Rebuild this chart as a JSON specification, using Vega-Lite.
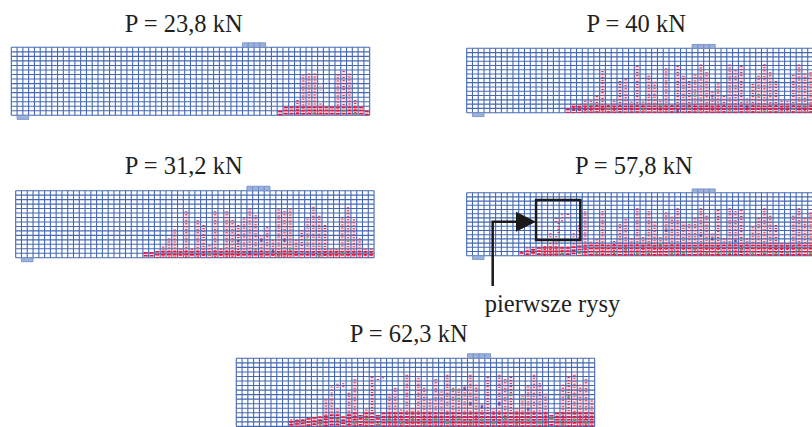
{"$schema":"https://vega.github.io/schema/vega-lite/v6.json","width":812,"height":427,"padding":0,"autosize":{"type":"none"},"background":"white","config":{"view":{"stroke":null}},
"datasets":{
"vl":[{"c":0},{"c":1},{"c":2},{"c":3},{"c":4},{"c":5},{"c":6},{"c":7},{"c":8},{"c":9},{"c":10},{"c":11},{"c":12},{"c":13},{"c":14},{"c":15},{"c":16},{"c":17},{"c":18},{"c":19},{"c":20},{"c":21},{"c":22},{"c":23},{"c":24},{"c":25},{"c":26},{"c":27},{"c":28},{"c":29},{"c":30},{"c":31},{"c":32},{"c":33},{"c":34},{"c":35},{"c":36},{"c":37},{"c":38},{"c":39},{"c":40},{"c":41},{"c":42},{"c":43},{"c":44},{"c":45},{"c":46},{"c":47},{"c":48},{"c":49},{"c":50},{"c":51},{"c":52},{"c":53},{"c":54},{"c":55},{"c":56},{"c":57},{"c":58},{"c":59},{"c":60},{"c":61},{"c":62}],
"hl":[{"r":0},{"r":1},{"r":2},{"r":3},{"r":4},{"r":5},{"r":6},{"r":7},{"r":8},{"r":9},{"r":10},{"r":11},{"r":12},{"r":13},{"r":14},{"r":15}],
"p40":[{"c":40,"e":41,"r":15,"t":16},{"c":41,"e":42,"r":15,"t":16},{"c":42,"e":43,"r":15,"t":16},{"c":43,"e":44,"r":15,"t":16},{"c":1,"e":3,"r":-0.9,"t":0}],
"p39":[{"c":39,"e":40,"r":15,"t":15.9},{"c":40,"e":41,"r":15,"t":15.9},{"c":41,"e":42,"r":15,"t":15.9},{"c":42,"e":43,"r":15,"t":15.9},{"c":1,"e":3,"r":-0.9,"t":0}],
"b1":[{"c":46.5,"h":1,"d":1},{"c":47.5,"h":1.9,"d":1.9},{"c":48.5,"h":1.9,"d":1.9},{"c":49.5,"h":3.4,"d":1.9},{"c":50.5,"h":9,"d":1.9},{"c":51.5,"h":9.2,"d":1.9},{"c":52.5,"h":9.2,"d":1.9},{"c":53.5,"h":2.6,"d":1.9},{"c":54.5,"h":1.9,"d":1.9},{"c":55.5,"h":1.9,"d":1.9},{"c":56.5,"h":9,"d":1.9},{"c":57.5,"h":9.8,"d":1.9},{"c":58.5,"h":9.2,"d":1.9},{"c":59.5,"h":3.4,"d":1.9},{"c":60.5,"h":1.9,"d":1.9},{"c":61.5,"h":1,"d":1}],
"f1":[{"c":53.5,"b":5.5,"h":7}],
"s1":[{"c":52.5,"r":0.6,"k":"g"},{"c":57.5,"r":0.9,"k":"g"},{"c":59.5,"r":0.4,"k":"g"}],
"b2":[{"c":22.5,"h":1.3,"d":1.3},{"c":23.5,"h":1.3,"d":1.3},{"c":24.5,"h":1.5,"d":1.5},{"c":25.5,"h":2.5,"d":1.5},{"c":26.5,"h":4.3,"d":1.5},{"c":27.5,"h":6.3,"d":1.5},{"c":28.5,"h":2,"d":1.5},{"c":29.5,"h":10.4,"d":1.5},{"c":30.5,"h":2,"d":1.5},{"c":31.5,"h":8.4,"d":1.5},{"c":32.5,"h":7.3,"d":1.5},{"c":33.5,"h":2.8,"d":1.5},{"c":34.5,"h":10.4,"d":1.5},{"c":35.5,"h":2,"d":1.5},{"c":36.5,"h":10.4,"d":1.5},{"c":37.5,"h":8.4,"d":1.5},{"c":38.5,"h":7.3,"d":1.5},{"c":39.5,"h":8.8,"d":1.5},{"c":40.5,"h":11,"d":1.5},{"c":41.5,"h":9.5,"d":1.5},{"c":42.5,"h":5,"d":1.5},{"c":43.5,"h":6.8,"d":1.5},{"c":44.5,"h":4,"d":1.5},{"c":45.5,"h":10.8,"d":1.5},{"c":46.5,"h":10.4,"d":1.5},{"c":47.5,"h":11,"d":1.5},{"c":48.5,"h":4,"d":1.5},{"c":49.5,"h":6.2,"d":1.5},{"c":50.5,"h":8.8,"d":1.5},{"c":51.5,"h":11.4,"d":1.5},{"c":52.5,"h":9.4,"d":1.5},{"c":53.5,"h":7.3,"d":1.5},{"c":54.5,"h":1.9,"d":1.5},{"c":55.5,"h":1.9,"d":1.5},{"c":56.5,"h":8.8,"d":1.5},{"c":57.5,"h":11.3,"d":1.5},{"c":58.5,"h":8.6,"d":1.5},{"c":59.5,"h":4.3,"d":1.5},{"c":60.5,"h":2,"d":1.5},{"c":61.5,"h":2,"d":1.5}],
"s2":[{"c":33.5,"r":0.7,"k":"g"},{"c":38.5,"r":3.7,"k":"b"},{"c":41.5,"r":1.8,"k":"g"},{"c":42.5,"r":3.9,"k":"b"},{"c":45.5,"r":0.4,"k":"g"},{"c":46.5,"r":3.9,"k":"b"},{"c":47.5,"r":1.8,"k":"g"},{"c":50.5,"r":4,"k":"g"},{"c":52.5,"r":0.4,"k":"g"},{"c":56.5,"r":1,"k":"g"},{"c":57.5,"r":3.8,"k":"g"},{"c":40.5,"r":1.2,"k":"b"},{"c":44.5,"r":1.5,"k":"b"}],
"b3":[{"c":17.5,"h":0.9,"d":0.9},{"c":18.5,"h":2,"d":1.6},{"c":19.5,"h":2,"d":1.6},{"c":20.5,"h":2.8,"d":1.7},{"c":21.5,"h":2.8,"d":1.7},{"c":22.5,"h":3.9,"d":1.7},{"c":23.5,"h":9.7,"d":1.7},{"c":24.5,"h":1.8,"d":1.7},{"c":25.5,"h":2.8,"d":1.7},{"c":26.5,"h":7.4,"d":1.7},{"c":27.5,"h":7.8,"d":1.7},{"c":28.5,"h":2.6,"d":1.7},{"c":29.5,"h":10.9,"d":1.7},{"c":30.5,"h":2.6,"d":1.7},{"c":31.5,"h":8.6,"d":1.7},{"c":32.5,"h":7.2,"d":1.7},{"c":33.5,"h":2.8,"d":1.7},{"c":34.5,"h":10.3,"d":1.7},{"c":35.5,"h":1.8,"d":1.7},{"c":36.5,"h":10.9,"d":1.7},{"c":37.5,"h":8.6,"d":1.7},{"c":38.5,"h":7.4,"d":1.7},{"c":39.5,"h":8.9,"d":1.7},{"c":40.5,"h":11.2,"d":1.7},{"c":41.5,"h":9.4,"d":1.7},{"c":42.5,"h":4.9,"d":1.7},{"c":43.5,"h":6.8,"d":1.7},{"c":44.5,"h":3.9,"d":1.7},{"c":45.5,"h":11.2,"d":1.7},{"c":46.5,"h":9.9,"d":1.7},{"c":47.5,"h":10.9,"d":1.7},{"c":48.5,"h":3.3,"d":1.7},{"c":49.5,"h":6.7,"d":1.7},{"c":50.5,"h":8.6,"d":1.7},{"c":51.5,"h":11.3,"d":1.7},{"c":52.5,"h":9.4,"d":1.7},{"c":53.5,"h":7.4,"d":1.7},{"c":54.5,"h":2.8,"d":1.7},{"c":55.5,"h":2.8,"d":1.7},{"c":56.5,"h":8.8,"d":1.7},{"c":57.5,"h":11.2,"d":1.7},{"c":58.5,"h":9.1,"d":1.7},{"c":59.5,"h":9.4,"d":1.7},{"c":60.5,"h":2.9,"d":1.7}],
"s3":[{"c":21.5,"r":1.8,"k":"g"},{"c":24.5,"r":1,"k":"g"},{"c":30.5,"r":0.8,"k":"g"},{"c":33.5,"r":1.7,"k":"g"},{"c":38.5,"r":1,"k":"g"},{"c":39.5,"r":4,"k":"g"},{"c":42.5,"r":3.9,"k":"b"},{"c":45.5,"r":0.7,"k":"g"},{"c":50.5,"r":4,"k":"g"},{"c":51.5,"r":0.3,"k":"g"},{"c":56.5,"r":0.9,"k":"g"},{"c":58.5,"r":1.5,"k":"g"},{"c":36.5,"r":0.5,"k":"b"},{"c":48.5,"r":1.3,"k":"b"}],
"b4":[{"c":9.5,"h":0.8,"d":0.8},{"c":10.5,"h":2,"d":1.2},{"c":11.5,"h":2,"d":1.6},{"c":12.5,"h":2,"d":2},{"c":13.5,"h":2.3,"d":2},{"c":14.5,"h":3,"d":2},{"c":15.5,"h":3.7,"d":2},{"c":16.5,"h":2.1,"d":2},{"c":17.5,"h":2.1,"d":2},{"c":18.5,"h":2.9,"d":2.2},{"c":19.5,"h":7.3,"d":2.4},{"c":20.5,"h":10.5,"d":2.5},{"c":21.5,"h":3.3,"d":2.6},{"c":22.5,"h":3.9,"d":2.6},{"c":23.5,"h":10.6,"d":2.6},{"c":24.5,"h":2.6,"d":2.6},{"c":25.5,"h":3.5,"d":2.6},{"c":26.5,"h":7.5,"d":2.6},{"c":27.5,"h":8.7,"d":2.6},{"c":28.5,"h":4.1,"d":2.6},{"c":29.5,"h":11.3,"d":2.6},{"c":30.5,"h":4.4,"d":2.6},{"c":31.5,"h":10.6,"d":2.6},{"c":32.5,"h":8.1,"d":2.6},{"c":33.5,"h":4.4,"d":2.6},{"c":34.5,"h":10.3,"d":2.6},{"c":35.5,"h":9.3,"d":2.6},{"c":36.5,"h":11.3,"d":2.6},{"c":37.5,"h":8.1,"d":2.6},{"c":38.5,"h":7.5,"d":2.6},{"c":39.5,"h":8.9,"d":2.6},{"c":40.5,"h":11.3,"d":2.6},{"c":41.5,"h":9.5,"d":2.6},{"c":42.5,"h":5.3,"d":2.6},{"c":43.5,"h":10.9,"d":2.6},{"c":44.5,"h":4.1,"d":2.6},{"c":45.5,"h":11.3,"d":2.6},{"c":46.5,"h":10.6,"d":2.6},{"c":47.5,"h":10.9,"d":2.6},{"c":48.5,"h":4.1,"d":2.6},{"c":49.5,"h":6.9,"d":2.6},{"c":50.5,"h":8.9,"d":2.6},{"c":51.5,"h":11.3,"d":2.6},{"c":52.5,"h":9.5,"d":2.6},{"c":53.5,"h":7.3,"d":2.6},{"c":54.5,"h":3,"d":2.6},{"c":55.5,"h":3,"d":2.6},{"c":56.5,"h":9.5,"d":2.6},{"c":57.5,"h":11.3,"d":2.6},{"c":58.5,"h":8.9,"d":2.6},{"c":59.5,"h":10.3,"d":2.6},{"c":60.5,"h":3.3,"d":2.6}],
"f4":[{"c":15.5,"b":8,"h":9},{"c":16.5,"b":8.2,"h":9.8},{"c":17.5,"b":9,"h":10},{"c":14.5,"b":4.4,"h":5.8},{"c":15.5,"b":4.4,"h":5},{"c":18.5,"b":4.4,"h":5.4},{"c":15.9,"b":5.4,"h":8.2}],
"s4":[{"c":16.5,"r":0.5,"k":"g"},{"c":19.5,"r":0.7,"k":"g"},{"c":22.5,"r":0.5,"k":"g"},{"c":25.5,"r":0.7,"k":"g"},{"c":27.5,"r":1.4,"k":"g"},{"c":29.5,"r":0.5,"k":"g"},{"c":31.5,"r":0.7,"k":"g"},{"c":33.5,"r":2.7,"k":"g"},{"c":35.5,"r":0.5,"k":"g"},{"c":37.5,"r":0.7,"k":"g"},{"c":39.5,"r":1.4,"k":"g"},{"c":41.5,"r":0.5,"k":"g"},{"c":43.5,"r":0.7,"k":"g"},{"c":45.5,"r":0.7,"k":"g"},{"c":47.5,"r":1.4,"k":"g"},{"c":49.5,"r":0.5,"k":"g"},{"c":51.5,"r":0.7,"k":"g"},{"c":53.5,"r":0.5,"k":"g"},{"c":55.5,"r":0.7,"k":"g"},{"c":57.5,"r":1.4,"k":"g"},{"c":59.5,"r":0.5,"k":"g"},{"c":60.5,"r":0.7,"k":"g"},{"c":40.5,"r":4.8,"k":"b"},{"c":42.5,"r":4,"k":"b"},{"c":46.5,"r":3.5,"k":"b"},{"c":34.5,"r":6,"k":"b"},{"c":38.5,"r":8,"k":"g"}],
"box":[{"c":12,"e":19.66,"r":3.74,"t":13.26}],
"lead":[{"o":1,"c":4.5,"r":-7.2},{"o":2,"c":4.5,"r":8.1},{"o":3,"c":9,"r":8.1}],
"head":[{"c":10.26,"r":8.1}],
"b5":[{"c":9.5,"h":1.5,"d":1.2},{"c":10.5,"h":1.5,"d":1.4},{"c":11.5,"h":1.5,"d":1.5},{"c":12.5,"h":1.8,"d":1.8},{"c":13.5,"h":2,"d":2},{"c":14.5,"h":2.2,"d":2.2},{"c":15.5,"h":5.9,"d":2.4},{"c":16.5,"h":5.9,"d":2.6},{"c":17.5,"h":4,"d":2.6},{"c":18.5,"h":2.2,"d":2.2},{"c":19.5,"h":7.4,"d":2.6},{"c":20.5,"h":10.4,"d":3},{"c":21.5,"h":2.5,"d":2.5},{"c":22.5,"h":3.7,"d":3},{"c":23.5,"h":10.9,"d":3},{"c":24.5,"h":2.5,"d":2.5},{"c":25.5,"h":3,"d":3},{"c":26.5,"h":7.2,"d":3},{"c":27.5,"h":8.5,"d":3},{"c":28.5,"h":3.7,"d":3},{"c":29.5,"h":11.4,"d":3},{"c":30.5,"h":4,"d":3},{"c":31.5,"h":10.7,"d":3},{"c":32.5,"h":8.5,"d":3},{"c":33.5,"h":5.9,"d":3},{"c":34.5,"h":10.4,"d":3},{"c":35.5,"h":7.7,"d":3},{"c":36.5,"h":11.4,"d":3},{"c":37.5,"h":8.5,"d":3},{"c":38.5,"h":8.3,"d":3},{"c":39.5,"h":8.8,"d":3},{"c":40.5,"h":11.4,"d":3},{"c":41.5,"h":9.2,"d":3},{"c":42.5,"h":4.8,"d":3},{"c":43.5,"h":10.9,"d":3},{"c":44.5,"h":4,"d":3},{"c":45.5,"h":11.4,"d":3},{"c":46.5,"h":10.4,"d":3},{"c":47.5,"h":10.9,"d":3},{"c":48.5,"h":4,"d":3},{"c":49.5,"h":6.8,"d":3},{"c":50.5,"h":8.8,"d":3},{"c":51.5,"h":11.4,"d":3},{"c":52.5,"h":9.5,"d":3},{"c":53.5,"h":7.2,"d":3},{"c":54.5,"h":2.5,"d":2.5},{"c":55.5,"h":3,"d":3},{"c":56.5,"h":9.2,"d":3},{"c":57.5,"h":10.9,"d":3},{"c":58.5,"h":11.4,"d":3},{"c":59.5,"h":9.2,"d":3},{"c":60.5,"h":10.4,"d":3},{"c":61.5,"h":5.7,"d":3}],
"f5":[{"c":16.5,"b":5.9,"h":9.2},{"c":17.5,"b":8.5,"h":9.8},{"c":18.5,"b":8.6,"h":9.8},{"c":24.5,"b":10.2,"h":11},{"c":25.4,"b":10.6,"h":11}],
"s5":[{"c":14.5,"r":0.5,"k":"g"},{"c":17.5,"r":1.5,"k":"g"},{"c":20.5,"r":0.7,"k":"g"},{"c":22.5,"r":1.7,"k":"g"},{"c":24.5,"r":0.5,"k":"g"},{"c":26.5,"r":1.5,"k":"g"},{"c":28.5,"r":0.7,"k":"g"},{"c":30.5,"r":1.7,"k":"g"},{"c":32.5,"r":0.5,"k":"g"},{"c":34.5,"r":1.5,"k":"g"},{"c":36.5,"r":0.7,"k":"g"},{"c":38.5,"r":1.7,"k":"g"},{"c":40.5,"r":0.5,"k":"g"},{"c":42.5,"r":1.5,"k":"g"},{"c":44.5,"r":0.7,"k":"g"},{"c":46.5,"r":1.7,"k":"g"},{"c":48.5,"r":0.5,"k":"g"},{"c":50.5,"r":1.5,"k":"g"},{"c":52.5,"r":0.7,"k":"g"},{"c":54.5,"r":1.7,"k":"g"},{"c":56.5,"r":0.5,"k":"g"},{"c":58.5,"r":1.5,"k":"g"},{"c":60.5,"r":0.7,"k":"g"},{"c":39.5,"r":8.3,"k":"b"},{"c":40.5,"r":5,"k":"b"},{"c":42.5,"r":4.3,"k":"b"},{"c":38.5,"r":6,"k":"g"},{"c":37.5,"r":8,"k":"g"},{"c":45.5,"r":5,"k":"b"},{"c":50.5,"r":3.8,"k":"b"},{"c":49.5,"r":6,"k":"g"},{"c":47.5,"r":7,"k":"g"},{"c":57.5,"r":6.5,"k":"g"}]
},
"resolve":{"scale":{"x":"independent","y":"independent"}},
"layer":[
{"layer":[
{"data":{"name":"b1"},"mark":{"type":"rule","strokeWidth":4.6,"color":"#fbdde2"},"encoding":{"x":{"field":"c","type":"quantitative","scale":{"domain":[-1.955,138.53],"nice":false,"zero":false},"axis":null},"y":{"field":"h","type":"quantitative","scale":{"domain":[-68.76,25.44],"nice":false,"zero":false},"axis":null},"y2":{"datum":0}}},
{"data":{"name":"vl"},"mark":{"type":"rule","strokeWidth":1.1,"color":"#4468b2"},"encoding":{"x":{"field":"c","type":"quantitative","scale":{"domain":[-1.955,138.53],"nice":false,"zero":false},"axis":null},"y":{"datum":0,"type":"quantitative","scale":{"domain":[-68.76,25.44],"nice":false,"zero":false},"axis":null},"y2":{"datum":15}}},
{"data":{"name":"hl"},"mark":{"type":"rule","strokeWidth":1.1,"color":"#4468b2"},"encoding":{"y":{"field":"r","type":"quantitative","scale":{"domain":[-68.76,25.44],"nice":false,"zero":false},"axis":null},"x":{"datum":0,"type":"quantitative","scale":{"domain":[-1.955,138.53],"nice":false,"zero":false},"axis":null},"x2":{"datum":62}}},
{"data":{"name":"p40"},"mark":{"type":"rect","fill":"#9db2da","stroke":"#6f8cc6","strokeWidth":0.8},"encoding":{"x":{"field":"c","type":"quantitative","scale":{"domain":[-1.955,138.53],"nice":false,"zero":false},"axis":null},"x2":{"field":"e"},"y":{"field":"r","type":"quantitative","scale":{"domain":[-68.76,25.44],"nice":false,"zero":false},"axis":null},"y2":{"field":"t"}}},
{"data":{"name":"b1"},"mark":{"type":"rule","strokeWidth":2.2,"color":"#e2304f","strokeDash":[1,2]},"encoding":{"x":{"field":"c","type":"quantitative","scale":{"domain":[-1.955,138.53],"nice":false,"zero":false},"axis":null},"y":{"field":"h","type":"quantitative","scale":{"domain":[-68.76,25.44],"nice":false,"zero":false},"axis":null},"y2":{"datum":0}}},
{"data":{"name":"f1"},"mark":{"type":"rule","strokeWidth":3,"color":"#ee8a9c","strokeDash":[1,2]},"encoding":{"x":{"field":"c","type":"quantitative","scale":{"domain":[-1.955,138.53],"nice":false,"zero":false},"axis":null},"y":{"field":"b","type":"quantitative","scale":{"domain":[-68.76,25.44],"nice":false,"zero":false},"axis":null},"y2":{"field":"h"}}},
{"data":{"name":"b1"},"mark":{"type":"rule","strokeWidth":4,"color":"#e8163c","strokeDash":[1.5,1.6]},"encoding":{"x":{"field":"c","type":"quantitative","scale":{"domain":[-1.955,138.53],"nice":false,"zero":false},"axis":null},"y":{"field":"d","type":"quantitative","scale":{"domain":[-68.76,25.44],"nice":false,"zero":false},"axis":null},"y2":{"datum":0}}},
{"data":{"name":"s1"},"mark":{"type":"square","size":5,"color":"#4fa868","opacity":0.9},"encoding":{"x":{"field":"c","type":"quantitative","scale":{"domain":[-1.955,138.53],"nice":false,"zero":false},"axis":null},"y":{"field":"r","type":"quantitative","scale":{"domain":[-68.76,25.44],"nice":false,"zero":false},"axis":null}}},
{"data":{"values":[{"c":29.83,"r":18.44,"t":"P = 23,8 kN"}]},"mark":{"type":"text","font":"Liberation Serif","fontSize":24.5,"color":"#231f20","align":"center","baseline":"alphabetic"},"encoding":{"x":{"field":"c","type":"quantitative","scale":{"domain":[-1.955,138.53],"nice":false,"zero":false},"axis":null},"y":{"field":"r","type":"quantitative","scale":{"domain":[-68.76,25.44],"nice":false,"zero":false},"axis":null},"text":{"field":"t","type":"nominal"}}}
]},
{"layer":[
{"data":{"name":"b2"},"mark":{"type":"rule","strokeWidth":4.6,"color":"#fbdde2"},"encoding":{"x":{"field":"c","type":"quantitative","scale":{"domain":[-2.716,137.77],"nice":false,"zero":false},"axis":null},"y":{"field":"h","type":"quantitative","scale":{"domain":[-37.9,57.69],"nice":false,"zero":false},"axis":null},"y2":{"datum":0}}},
{"data":{"name":"vl"},"mark":{"type":"rule","strokeWidth":1.1,"color":"#4468b2"},"encoding":{"x":{"field":"c","type":"quantitative","scale":{"domain":[-2.716,137.77],"nice":false,"zero":false},"axis":null},"y":{"datum":0,"type":"quantitative","scale":{"domain":[-37.9,57.69],"nice":false,"zero":false},"axis":null},"y2":{"datum":15}}},
{"data":{"name":"hl"},"mark":{"type":"rule","strokeWidth":1.1,"color":"#4468b2"},"encoding":{"y":{"field":"r","type":"quantitative","scale":{"domain":[-37.9,57.69],"nice":false,"zero":false},"axis":null},"x":{"datum":0,"type":"quantitative","scale":{"domain":[-2.716,137.77],"nice":false,"zero":false},"axis":null},"x2":{"datum":62}}},
{"data":{"name":"p40"},"mark":{"type":"rect","fill":"#9db2da","stroke":"#6f8cc6","strokeWidth":0.8},"encoding":{"x":{"field":"c","type":"quantitative","scale":{"domain":[-2.716,137.77],"nice":false,"zero":false},"axis":null},"x2":{"field":"e"},"y":{"field":"r","type":"quantitative","scale":{"domain":[-37.9,57.69],"nice":false,"zero":false},"axis":null},"y2":{"field":"t"}}},
{"data":{"name":"b2"},"mark":{"type":"rule","strokeWidth":2.2,"color":"#e2304f","strokeDash":[1,2]},"encoding":{"x":{"field":"c","type":"quantitative","scale":{"domain":[-2.716,137.77],"nice":false,"zero":false},"axis":null},"y":{"field":"h","type":"quantitative","scale":{"domain":[-37.9,57.69],"nice":false,"zero":false},"axis":null},"y2":{"datum":0}}},
{"data":{"name":"b2"},"mark":{"type":"rule","strokeWidth":4,"color":"#e8163c","strokeDash":[1.5,1.6]},"encoding":{"x":{"field":"c","type":"quantitative","scale":{"domain":[-2.716,137.77],"nice":false,"zero":false},"axis":null},"y":{"field":"d","type":"quantitative","scale":{"domain":[-37.9,57.69],"nice":false,"zero":false},"axis":null},"y2":{"datum":0}}},
{"data":{"name":"s2"},"transform":[{"filter":"datum.k==='g'"}],"mark":{"type":"square","size":5,"color":"#4fa868","opacity":0.9},"encoding":{"x":{"field":"c","type":"quantitative","scale":{"domain":[-2.716,137.77],"nice":false,"zero":false},"axis":null},"y":{"field":"r","type":"quantitative","scale":{"domain":[-37.9,57.69],"nice":false,"zero":false},"axis":null}}},
{"data":{"name":"s2"},"transform":[{"filter":"datum.k==='b'"}],"mark":{"type":"square","size":5,"color":"#3f4fb0","opacity":0.9},"encoding":{"x":{"field":"c","type":"quantitative","scale":{"domain":[-2.716,137.77],"nice":false,"zero":false},"axis":null},"y":{"field":"r","type":"quantitative","scale":{"domain":[-37.9,57.69],"nice":false,"zero":false},"axis":null}}},
{"data":{"values":[{"c":29.07,"r":18.74,"t":"P = 31,2 kN"}]},"mark":{"type":"text","font":"Liberation Serif","fontSize":24.5,"color":"#231f20","align":"center","baseline":"alphabetic"},"encoding":{"x":{"field":"c","type":"quantitative","scale":{"domain":[-2.716,137.77],"nice":false,"zero":false},"axis":null},"y":{"field":"r","type":"quantitative","scale":{"domain":[-37.9,57.69],"nice":false,"zero":false},"axis":null},"text":{"field":"t","type":"nominal"}}}
]},
{"layer":[
{"data":{"name":"b3"},"mark":{"type":"rule","strokeWidth":4.6,"color":"#fbdde2"},"encoding":{"x":{"field":"c","type":"quantitative","scale":{"domain":[-80.74,59.74],"nice":false,"zero":false},"axis":null},"y":{"field":"h","type":"quantitative","scale":{"domain":[-73.2,26.25],"nice":false,"zero":false},"axis":null},"y2":{"datum":0}}},
{"data":{"name":"vl"},"mark":{"type":"rule","strokeWidth":1.1,"color":"#4468b2"},"encoding":{"x":{"field":"c","type":"quantitative","scale":{"domain":[-80.74,59.74],"nice":false,"zero":false},"axis":null},"y":{"datum":0,"type":"quantitative","scale":{"domain":[-73.2,26.25],"nice":false,"zero":false},"axis":null},"y2":{"datum":15}}},
{"data":{"name":"hl"},"mark":{"type":"rule","strokeWidth":1.1,"color":"#4468b2"},"encoding":{"y":{"field":"r","type":"quantitative","scale":{"domain":[-73.2,26.25],"nice":false,"zero":false},"axis":null},"x":{"datum":0,"type":"quantitative","scale":{"domain":[-80.74,59.74],"nice":false,"zero":false},"axis":null},"x2":{"datum":62}}},
{"data":{"name":"p39"},"mark":{"type":"rect","fill":"#9db2da","stroke":"#6f8cc6","strokeWidth":0.8},"encoding":{"x":{"field":"c","type":"quantitative","scale":{"domain":[-80.74,59.74],"nice":false,"zero":false},"axis":null},"x2":{"field":"e"},"y":{"field":"r","type":"quantitative","scale":{"domain":[-73.2,26.25],"nice":false,"zero":false},"axis":null},"y2":{"field":"t"}}},
{"data":{"name":"b3"},"mark":{"type":"rule","strokeWidth":2.2,"color":"#e2304f","strokeDash":[1,2]},"encoding":{"x":{"field":"c","type":"quantitative","scale":{"domain":[-80.74,59.74],"nice":false,"zero":false},"axis":null},"y":{"field":"h","type":"quantitative","scale":{"domain":[-73.2,26.25],"nice":false,"zero":false},"axis":null},"y2":{"datum":0}}},
{"data":{"name":"b3"},"mark":{"type":"rule","strokeWidth":4,"color":"#e8163c","strokeDash":[1.5,1.6]},"encoding":{"x":{"field":"c","type":"quantitative","scale":{"domain":[-80.74,59.74],"nice":false,"zero":false},"axis":null},"y":{"field":"d","type":"quantitative","scale":{"domain":[-73.2,26.25],"nice":false,"zero":false},"axis":null},"y2":{"datum":0}}},
{"data":{"name":"s3"},"transform":[{"filter":"datum.k==='g'"}],"mark":{"type":"square","size":5,"color":"#4fa868","opacity":0.9},"encoding":{"x":{"field":"c","type":"quantitative","scale":{"domain":[-80.74,59.74],"nice":false,"zero":false},"axis":null},"y":{"field":"r","type":"quantitative","scale":{"domain":[-73.2,26.25],"nice":false,"zero":false},"axis":null}}},
{"data":{"name":"s3"},"transform":[{"filter":"datum.k==='b'"}],"mark":{"type":"square","size":5,"color":"#3f4fb0","opacity":0.9},"encoding":{"x":{"field":"c","type":"quantitative","scale":{"domain":[-80.74,59.74],"nice":false,"zero":false},"axis":null},"y":{"field":"r","type":"quantitative","scale":{"domain":[-73.2,26.25],"nice":false,"zero":false},"axis":null}}},
{"data":{"values":[{"c":29.33,"r":18.87,"t":"P = 40 kN"}]},"mark":{"type":"text","font":"Liberation Serif","fontSize":24.5,"color":"#231f20","align":"center","baseline":"alphabetic"},"encoding":{"x":{"field":"c","type":"quantitative","scale":{"domain":[-80.74,59.74],"nice":false,"zero":false},"axis":null},"y":{"field":"r","type":"quantitative","scale":{"domain":[-73.2,26.25],"nice":false,"zero":false},"axis":null},"text":{"field":"t","type":"nominal"}}}
]},
{"layer":[
{"data":{"name":"b4"},"mark":{"type":"rule","strokeWidth":4.6,"color":"#fbdde2"},"encoding":{"x":{"field":"c","type":"quantitative","scale":{"domain":[-80.74,59.74],"nice":false,"zero":false},"axis":null},"y":{"field":"h","type":"quantitative","scale":{"domain":[-40.79,60.88],"nice":false,"zero":false},"axis":null},"y2":{"datum":0}}},
{"data":{"name":"vl"},"mark":{"type":"rule","strokeWidth":1.1,"color":"#4468b2"},"encoding":{"x":{"field":"c","type":"quantitative","scale":{"domain":[-80.74,59.74],"nice":false,"zero":false},"axis":null},"y":{"datum":0,"type":"quantitative","scale":{"domain":[-40.79,60.88],"nice":false,"zero":false},"axis":null},"y2":{"datum":15}}},
{"data":{"name":"hl"},"mark":{"type":"rule","strokeWidth":1.1,"color":"#4468b2"},"encoding":{"y":{"field":"r","type":"quantitative","scale":{"domain":[-40.79,60.88],"nice":false,"zero":false},"axis":null},"x":{"datum":0,"type":"quantitative","scale":{"domain":[-80.74,59.74],"nice":false,"zero":false},"axis":null},"x2":{"datum":62}}},
{"data":{"name":"p39"},"mark":{"type":"rect","fill":"#9db2da","stroke":"#6f8cc6","strokeWidth":0.8},"encoding":{"x":{"field":"c","type":"quantitative","scale":{"domain":[-80.74,59.74],"nice":false,"zero":false},"axis":null},"x2":{"field":"e"},"y":{"field":"r","type":"quantitative","scale":{"domain":[-40.79,60.88],"nice":false,"zero":false},"axis":null},"y2":{"field":"t"}}},
{"data":{"name":"b4"},"mark":{"type":"rule","strokeWidth":2.2,"color":"#e2304f","strokeDash":[1,2]},"encoding":{"x":{"field":"c","type":"quantitative","scale":{"domain":[-80.74,59.74],"nice":false,"zero":false},"axis":null},"y":{"field":"h","type":"quantitative","scale":{"domain":[-40.79,60.88],"nice":false,"zero":false},"axis":null},"y2":{"datum":0}}},
{"data":{"name":"f4"},"mark":{"type":"rule","strokeWidth":2.2,"color":"#e2304f","strokeDash":[1,2]},"encoding":{"x":{"field":"c","type":"quantitative","scale":{"domain":[-80.74,59.74],"nice":false,"zero":false},"axis":null},"y":{"field":"b","type":"quantitative","scale":{"domain":[-40.79,60.88],"nice":false,"zero":false},"axis":null},"y2":{"field":"h"}}},
{"data":{"name":"b4"},"mark":{"type":"rule","strokeWidth":4,"color":"#e8163c","strokeDash":[1.5,1.6]},"encoding":{"x":{"field":"c","type":"quantitative","scale":{"domain":[-80.74,59.74],"nice":false,"zero":false},"axis":null},"y":{"field":"d","type":"quantitative","scale":{"domain":[-40.79,60.88],"nice":false,"zero":false},"axis":null},"y2":{"datum":0}}},
{"data":{"name":"s4"},"transform":[{"filter":"datum.k==='g'"}],"mark":{"type":"square","size":6,"color":"#4fa868","opacity":0.9},"encoding":{"x":{"field":"c","type":"quantitative","scale":{"domain":[-80.74,59.74],"nice":false,"zero":false},"axis":null},"y":{"field":"r","type":"quantitative","scale":{"domain":[-40.79,60.88],"nice":false,"zero":false},"axis":null}}},
{"data":{"name":"s4"},"transform":[{"filter":"datum.k==='b'"}],"mark":{"type":"square","size":6,"color":"#3f4fb0","opacity":0.9},"encoding":{"x":{"field":"c","type":"quantitative","scale":{"domain":[-80.74,59.74],"nice":false,"zero":false},"axis":null},"y":{"field":"r","type":"quantitative","scale":{"domain":[-40.79,60.88],"nice":false,"zero":false},"axis":null}}},
{"data":{"name":"box"},"mark":{"type":"rect","filled":false,"stroke":"#1a1a1a","strokeWidth":2.5},"encoding":{"x":{"field":"c","type":"quantitative","scale":{"domain":[-80.74,59.74],"nice":false,"zero":false},"axis":null},"x2":{"field":"e"},"y":{"field":"r","type":"quantitative","scale":{"domain":[-40.79,60.88],"nice":false,"zero":false},"axis":null},"y2":{"field":"t"}}},
{"data":{"name":"lead"},"mark":{"type":"line","stroke":"#1a1a1a","strokeWidth":2.5},"encoding":{"x":{"field":"c","type":"quantitative","scale":{"domain":[-80.74,59.74],"nice":false,"zero":false},"axis":null},"y":{"field":"r","type":"quantitative","scale":{"domain":[-40.79,60.88],"nice":false,"zero":false},"axis":null},"order":{"field":"o","type":"quantitative"}}},
{"data":{"name":"head"},"mark":{"type":"point","filled":true,"shape":"M-1,-1L1,0L-1,1Z","size":400,"color":"#1a1a1a","opacity":1},"encoding":{"x":{"field":"c","type":"quantitative","scale":{"domain":[-80.74,59.74],"nice":false,"zero":false},"axis":null},"y":{"field":"r","type":"quantitative","scale":{"domain":[-40.79,60.88],"nice":false,"zero":false},"axis":null}}},
{"data":{"values":[{"c":28.9,"r":19.45,"t":"P = 57,8 kN"},{"c":14.84,"r":-13.33,"t":"pierwsze rysy"}]},"mark":{"type":"text","font":"Liberation Serif","fontSize":24.5,"color":"#231f20","align":"center","baseline":"alphabetic"},"encoding":{"x":{"field":"c","type":"quantitative","scale":{"domain":[-80.74,59.74],"nice":false,"zero":false},"axis":null},"y":{"field":"r","type":"quantitative","scale":{"domain":[-40.79,60.88],"nice":false,"zero":false},"axis":null},"text":{"field":"t","type":"nominal"}}}
]},
{"layer":[
{"data":{"name":"b5"},"mark":{"type":"rule","strokeWidth":4.6,"color":"#fbdde2"},"encoding":{"x":{"field":"c","type":"quantitative","scale":{"domain":[-40.88,99.6],"nice":false,"zero":false},"axis":null},"y":{"field":"h","type":"quantitative","scale":{"domain":[-0.13,93.92],"nice":false,"zero":false},"axis":null},"y2":{"datum":0}}},
{"data":{"name":"vl"},"mark":{"type":"rule","strokeWidth":1.1,"color":"#4468b2"},"encoding":{"x":{"field":"c","type":"quantitative","scale":{"domain":[-40.88,99.6],"nice":false,"zero":false},"axis":null},"y":{"datum":0,"type":"quantitative","scale":{"domain":[-0.13,93.92],"nice":false,"zero":false},"axis":null},"y2":{"datum":15}}},
{"data":{"name":"hl"},"mark":{"type":"rule","strokeWidth":1.1,"color":"#4468b2"},"encoding":{"y":{"field":"r","type":"quantitative","scale":{"domain":[-0.13,93.92],"nice":false,"zero":false},"axis":null},"x":{"datum":0,"type":"quantitative","scale":{"domain":[-40.88,99.6],"nice":false,"zero":false},"axis":null},"x2":{"datum":62}}},
{"data":{"name":"p40"},"mark":{"type":"rect","fill":"#9db2da","stroke":"#6f8cc6","strokeWidth":0.8},"transform":[{"filter":"datum.r>=0"}],"encoding":{"x":{"field":"c","type":"quantitative","scale":{"domain":[-40.88,99.6],"nice":false,"zero":false},"axis":null},"x2":{"field":"e"},"y":{"field":"r","type":"quantitative","scale":{"domain":[-0.13,93.92],"nice":false,"zero":false},"axis":null},"y2":{"field":"t"}}},
{"data":{"name":"b5"},"mark":{"type":"rule","strokeWidth":2.2,"color":"#e2304f","strokeDash":[1,2]},"encoding":{"x":{"field":"c","type":"quantitative","scale":{"domain":[-40.88,99.6],"nice":false,"zero":false},"axis":null},"y":{"field":"h","type":"quantitative","scale":{"domain":[-0.13,93.92],"nice":false,"zero":false},"axis":null},"y2":{"datum":0}}},
{"data":{"name":"f5"},"mark":{"type":"rule","strokeWidth":2.2,"color":"#e2304f","strokeDash":[1,2]},"encoding":{"x":{"field":"c","type":"quantitative","scale":{"domain":[-40.88,99.6],"nice":false,"zero":false},"axis":null},"y":{"field":"b","type":"quantitative","scale":{"domain":[-0.13,93.92],"nice":false,"zero":false},"axis":null},"y2":{"field":"h"}}},
{"data":{"name":"b5"},"mark":{"type":"rule","strokeWidth":4,"color":"#e8163c","strokeDash":[1.5,1.6]},"encoding":{"x":{"field":"c","type":"quantitative","scale":{"domain":[-40.88,99.6],"nice":false,"zero":false},"axis":null},"y":{"field":"d","type":"quantitative","scale":{"domain":[-0.13,93.92],"nice":false,"zero":false},"axis":null},"y2":{"datum":0}}},
{"data":{"name":"s5"},"transform":[{"filter":"datum.k==='g'"}],"mark":{"type":"square","size":6,"color":"#4fa868","opacity":0.9},"encoding":{"x":{"field":"c","type":"quantitative","scale":{"domain":[-40.88,99.6],"nice":false,"zero":false},"axis":null},"y":{"field":"r","type":"quantitative","scale":{"domain":[-0.13,93.92],"nice":false,"zero":false},"axis":null}}},
{"data":{"name":"s5"},"transform":[{"filter":"datum.k==='b'"}],"mark":{"type":"square","size":6,"color":"#3f4fb0","opacity":0.9},"encoding":{"x":{"field":"c","type":"quantitative","scale":{"domain":[-40.88,99.6],"nice":false,"zero":false},"axis":null},"y":{"field":"r","type":"quantitative","scale":{"domain":[-0.13,93.92],"nice":false,"zero":false},"axis":null}}},
{"data":{"values":[{"c":29.83,"r":18.66,"t":"P = 62,3 kN"}]},"mark":{"type":"text","font":"Liberation Serif","fontSize":24.5,"color":"#231f20","align":"center","baseline":"alphabetic"},"encoding":{"x":{"field":"c","type":"quantitative","scale":{"domain":[-40.88,99.6],"nice":false,"zero":false},"axis":null},"y":{"field":"r","type":"quantitative","scale":{"domain":[-0.13,93.92],"nice":false,"zero":false},"axis":null},"text":{"field":"t","type":"nominal"}}}
]}
]}
